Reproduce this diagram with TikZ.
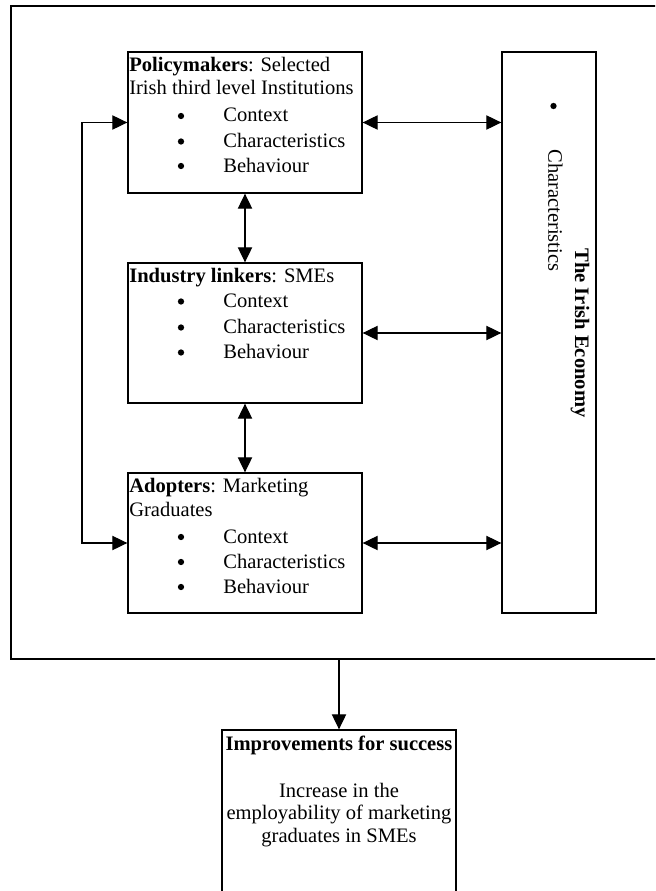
\documentclass[tikz,border=0pt]{standalone}
\usepackage{fontspec}
\setmainfont{Liberation Serif}
\usetikzlibrary{arrows.meta}
\begin{document}
\begin{tikzpicture}[x=0.6667pt,y=-0.6667pt,
  box/.style={draw,line width=0.9pt,inner sep=0,minimum width=156pt},
  txt/.style={inner sep=0,anchor=base west,font=\fontsize{13.7}{16}\selectfont},
  ctr/.style={inner sep=0,anchor=base,font=\fontsize{13.7}{16}\selectfont},
  dot/.style={circle,fill,inner sep=0,minimum size=4.2pt},
  arr/.style={line width=0.8pt,{Triangle[length=10pt,width=9.5pt]}-{Triangle[length=10pt,width=9.5pt]}},
  arrone/.style={line width=0.8pt,-{Triangle[length=10pt,width=9.5pt]}},
]
\useasboundingbox (0,0) rectangle (655,891);
\clip (0,0) rectangle (655,891);

% outer frame (right side runs off the page)
\draw[line width=1pt] (665,6) -- (11,6) -- (11,659) -- (665,659);

% boxes
\node[box,minimum height=94pt] (pm) at (245,122.5) {};
\node[box,minimum height=93.33pt] (ind) at (245,333) {};
\node[box,minimum height=93.33pt] (ad) at (245,543) {};
\node[box,minimum width=62.67pt,minimum height=374pt] (ec) at (549,332.5) {};
\node[box,minimum height=113.33pt] (imp) at (339,815) {};

% policymakers text
\node[txt] (pmh1) at (129,72) {\textbf{Policymakers}: Selected};
\node[txt] (pmh2) at (129,95) {Irish third level Institutions};
\node[dot] (pmb1) at (181,116) {};
\node[txt] (pmi1) at (223,122) {Context};
\node[dot] (pmb2) at (181,141.5) {};
\node[txt] (pmi2) at (223,147.5) {Characteristics};
\node[dot] (pmb3) at (181,166) {};
\node[txt] (pmi3) at (223,172) {Behaviour};

% industry text
\node[txt] (inh1) at (129,282) {\textbf{Industry linkers}: SMEs};
\node[dot] (inb1) at (181,301.5) {};
\node[txt] (ini1) at (223,307.5) {Context};
\node[dot] (inb2) at (181,327.5) {};
\node[txt] (ini2) at (223,333.5) {Characteristics};
\node[dot] (inb3) at (181,352.5) {};
\node[txt] (ini3) at (223,358.5) {Behaviour};

% adopters text
\node[txt] (adh1) at (129,492) {\textbf{Adopters}: Marketing};
\node[txt] (adh2) at (129,516) {Graduates};
\node[dot] (adb1) at (181,537) {};
\node[txt] (adi1) at (223,543) {Context};
\node[dot] (adb2) at (181,562) {};
\node[txt] (adi2) at (223,568) {Characteristics};
\node[dot] (adb3) at (181,587) {};
\node[txt] (adi3) at (223,593) {Behaviour};

% economy text (rotated)
\node[dot] (ecb) at (553.5,106) {};
\node[txt,rotate=-90] (ecc) at (548.3,149) {Characteristics};
\node[ctr,rotate=-90] (ect) at (575,333) {\textbf{The Irish Economy}};

% improvements text
\node[ctr] (imh) at (339,750.5) {\textbf{Improvements for success}};
\node[ctr] (im1) at (339,797) {Increase in the};
\node[ctr] (im2) at (339,819.5) {employability of marketing};
\node[ctr] (im3) at (339,842) {graduates in SMEs};

% connectors
\coordinate (lp) at (82,333);
\draw[arr] (pm.west) -| (lp) |- (ad.west);
\draw[arr] (pm.east) -- (pm.east -| ec.west);
\draw[arr] (ind.east) -- (ind.east -| ec.west);
\draw[arr] (ad.east) -- (ad.east -| ec.west);
\draw[arr] (pm.south) -- (ind.north);
\draw[arr] (ind.south) -- (ad.north);
\coordinate (fb) at (339,659);
\draw[arrone] (fb) -- (imp.north);
\end{tikzpicture}
\end{document}
